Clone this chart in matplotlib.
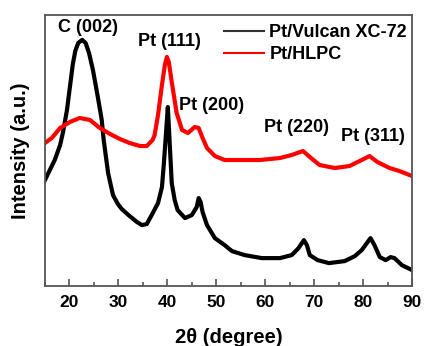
import matplotlib
matplotlib.use("Agg")
import matplotlib.pyplot as plt
from matplotlib.ticker import MultipleLocator

plt.rcParams['font.family'] = ['Liberation Sans', 'DejaVu Sans']
plt.rcParams['font.weight'] = 'bold'

# XRD patterns (2theta in degrees, intensity in a.u.)
vulcan_2theta = [15.0, 16.0, 17.0, 18.1, 18.7, 19.5, 20.1, 20.7, 21.2, 21.8, 22.6, 23.3,
                 24.0, 24.8, 25.8, 26.6, 27.0, 27.9, 28.9, 29.9, 30.7, 32.3, 33.8, 34.8,
                 35.8, 36.8, 38.1, 38.9, 39.3, 39.7, 40.1, 40.5, 40.9, 41.5, 42.1, 43.6,
                 45.0, 46.0, 46.4, 46.8, 47.2, 48.1, 49.7, 51.7, 53.2, 55.8, 59.3, 63.0,
                 65.4, 66.8, 67.9, 68.5, 69.1, 70.7, 73.0, 76.2, 78.3, 79.7, 80.9, 81.5,
                 82.3, 83.4, 84.6, 85.6, 86.4, 87.9, 90.0]
vulcan_int = [106, 116, 126, 141, 154, 176, 199, 222, 235, 243, 246, 243,
              233, 216, 189, 166, 146, 113, 91, 82, 77, 70, 64, 61,
              62, 71, 83, 99, 123, 151, 179, 141, 103, 86, 76, 68,
              71, 79, 88, 84, 74, 61, 48, 41, 35, 31, 28, 28,
              31, 38, 46, 41, 31, 26, 23, 25, 30, 36, 44, 48,
              41, 29, 26, 29, 28, 21, 16]

hlpc_2theta = [15.0, 16.4, 18.1, 20.1, 22.1, 24.2, 26.2, 28.3, 30.3, 32.3, 34.4, 35.8,
               37.0, 37.4, 38.1, 38.9, 39.5, 39.9, 40.3, 40.9, 41.9, 43.0, 44.2, 45.6,
               46.4, 47.2, 48.1, 49.7, 51.7, 54.8, 58.9, 63.0, 65.4, 67.7, 69.1, 71.1,
               74.2, 77.2, 79.7, 81.3, 82.9, 85.4, 87.4, 90.0]
hlpc_int = [143, 148, 158, 164, 168, 166, 158, 152, 147, 143, 140, 140,
            146, 151, 171, 201, 221, 229, 224, 204, 173, 156, 153, 159,
            158, 148, 138, 130, 126, 126, 126, 128, 131, 135, 129, 121,
            118, 120, 126, 130, 124, 118, 115, 110]

peak_labels = ["C (002)", "Pt (111)", "Pt (200)", "Pt (220)", "Pt (311)"]
peak_label_x = [23.8, 40.5, 49.1, 66.4, 81.9]
peak_label_y = [258, 244, 180, 158, 149]

fig = plt.figure(figsize=(4.24, 3.46), dpi=100)
ax = fig.add_axes([0.106, 0.173, 0.866, 0.784])

ax.plot(vulcan_2theta, vulcan_int, color='black', lw=3.0, label='Pt/Vulcan XC-72')
ax.plot(hlpc_2theta, hlpc_int, color='red', lw=3.0, label='Pt/HLPC')

for txt, x, y in zip(peak_labels, peak_label_x, peak_label_y):
    ax.text(x, y, txt, ha='center', va='center', fontsize=13, fontweight='bold')

ax.set_xlim(15, 90)
ax.set_ylim(0, 271)
ax.xaxis.set_major_locator(MultipleLocator(10))
ax.xaxis.set_minor_locator(MultipleLocator(5))
ax.set_yticks([])
ax.tick_params(axis='x', which='both', direction='in', color='#555555', width=1.2,
               labelsize=12.5, pad=6.5)
ax.tick_params(axis='x', which='major', length=5)
ax.tick_params(axis='x', which='minor', length=3)
for lab in ax.get_xticklabels():
    lab.set_fontweight('bold')
for sp in ax.spines.values():
    sp.set_color('#555555')
    sp.set_linewidth(1.3)

ax.set_xlabel('2θ (degree)', fontsize=14.5, fontweight='bold', labelpad=13)
ax.set_ylabel('Intensity (a.u.)', fontsize=14.5, fontweight='bold', labelpad=11)

leg = ax.legend(loc='upper left', bbox_to_anchor=(0.488, 0.965), frameon=False,
                fontsize=13, handlelength=2.2, handletextpad=0.3, borderpad=0,
                borderaxespad=0, labelspacing=0.25)
for h in leg.get_lines():
    h.set_linewidth(1.5)
leg.get_lines()[0].set_color('#333333')
for t in leg.get_texts():
    t.set_fontweight('bold')

fig.savefig('out.png', dpi=100)
